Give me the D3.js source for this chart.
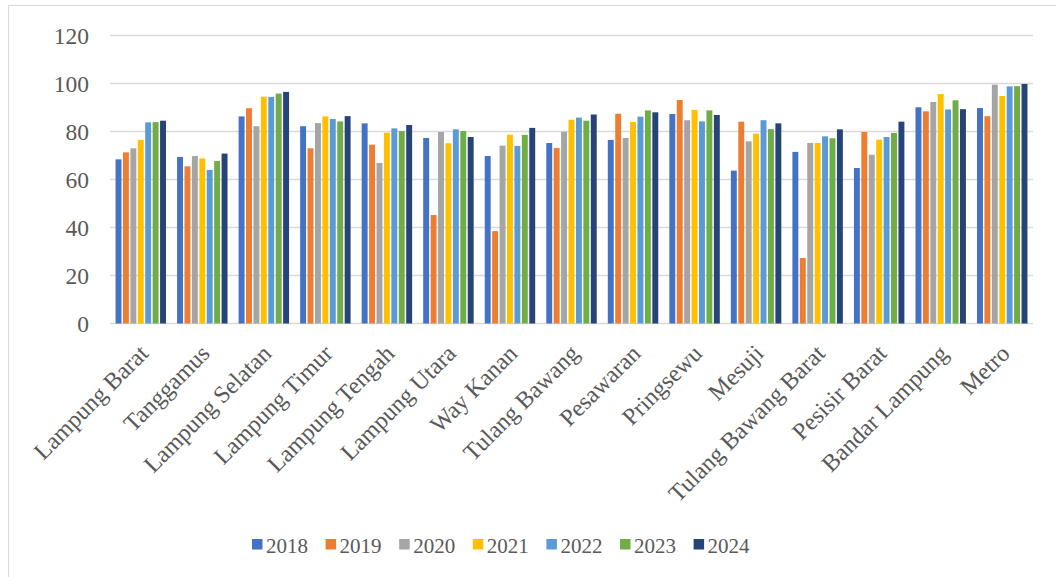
<!DOCTYPE html>
<html lang="en">
<head>
    <meta charset="UTF-8">
    <title>chart</title>
    <script src="https://cdn.jsdelivr.net/npm/d3@7/dist/d3.min.js"></script>
    <style>
        body { margin: 0; background: #fff; }
        text { font-family: "Liberation Serif", "Times New Roman", serif; fill: #595959; }
    </style>
</head>
<body>

<svg width="1056" height="577"></svg>

<script>

    // data
    var regions = ["Lampung Barat", "Tanggamus", "Lampung Selatan", "Lampung Timur", "Lampung Tengah",
        "Lampung Utara", "Way Kanan", "Tulang Bawang", "Pesawaran", "Pringsewu", "Mesuji",
        "Tulang Bawang Barat", "Pesisir Barat", "Bandar Lampung", "Metro"];
    var years = ["2018", "2019", "2020", "2021", "2022", "2023", "2024"];

    var v2018 = [68.4, 69.4, 86.3, 82.2, 83.4, 77.3, 69.8, 75.2, 76.5, 87.3, 63.7, 71.5, 64.8, 90.1, 89.8];
    var v2019 = [71.3, 65.5, 89.7, 73.0, 74.5, 45.2, 38.5, 73.1, 87.4, 93.1, 84.1, 27.3, 79.8, 88.4, 86.4];
    var v2020 = [73.0, 69.8, 82.2, 83.5, 66.9, 79.8, 74.1, 79.9, 77.3, 84.7, 75.9, 75.2, 70.3, 92.3, 99.5];
    var v2021 = [76.5, 68.8, 94.5, 86.3, 79.5, 75.1, 78.7, 84.9, 84.0, 89.0, 79.1, 75.2, 76.6, 95.6, 94.8];
    var v2022 = [83.8, 64.0, 94.4, 85.2, 81.3, 80.9, 74.0, 85.8, 86.2, 84.2, 84.7, 78.0, 77.7, 89.2, 98.8];
    var v2023 = [83.9, 67.7, 95.8, 84.2, 80.2, 80.2, 78.6, 84.5, 88.8, 88.8, 81.0, 77.2, 79.4, 93.0, 98.9];
    var v2024 = [84.5, 70.8, 96.5, 86.4, 82.7, 77.7, 81.5, 87.1, 88.0, 86.9, 83.4, 80.9, 84.1, 89.3, 99.8];

    var series = [v2018, v2019, v2020, v2021, v2022, v2023, v2024];
    var colors = ["#4472C4", "#ED7D31", "#A5A5A5", "#FFC000", "#5B9BD5", "#70AD47", "#264478"];
    var yTicks = [0, 20, 40, 60, 80, 100, 120];

    var svg = d3.select("svg");

    // border
    svg.append("rect")
        .attr("x", 8.5).attr("y", 5.5)
        .attr("width", 1060).attr("height", 580)
        .attr("fill", "none")
        .attr("stroke", "#d9d9d9")
        .attr("stroke-width", 1);

    var plotLeft = 110, plotRight = 1033, plotTop = 35.5, plotBottom = 323.5;

    var x0 = d3.scaleBand()
        .domain(regions)
        .range([plotLeft, plotRight])
        .paddingInner(0.18)
        .paddingOuter(0.09);

    var x1 = d3.scaleBand()
        .domain(years)
        .range([0, x0.bandwidth()])
        .paddingInner(0.2);

    var y = d3.scaleLinear()
        .domain([0, 120])
        .range([plotBottom, plotTop]);

    // gridlines
    svg.append("g")
        .selectAll("line")
        .data(yTicks)
        .enter()
        .append("line")
        .attr("x1", plotLeft)
        .attr("x2", plotRight)
        .attr("y1", function (d) { return y(d); })
        .attr("y2", function (d) { return y(d); })
        .attr("stroke", "#d9d9d9")
        .attr("stroke-width", 1.5);

    // y tick labels
    svg.append("g")
        .selectAll("text")
        .data(yTicks)
        .enter()
        .append("text")
        .attr("x", 89)
        .attr("y", function (d) { return y(d); })
        .attr("dy", "0.35em")
        .attr("text-anchor", "end")
        .style("font-size", "23.5px")
        .text(function (d) { return d; });

    // bars
    var groups = svg.append("g")
        .selectAll("g")
        .data(regions)
        .enter()
        .append("g")
        .attr("transform", function (d) { return "translate(" + x0(d) + ",0)"; });

    groups.selectAll("rect")
        .data(function (d, i) {
            return years.map(function (yr, j) { return {year: yr, value: series[j][i], idx: j}; });
        })
        .enter()
        .append("rect")
        .attr("x", function (d) { return x1(d.year); })
        .attr("y", function (d) { return y(d.value); })
        .attr("width", x1.bandwidth())
        .attr("height", function (d) { return y(0) - y(d.value); })
        .attr("fill", function (d) { return colors[d.idx]; });

    // x labels
    svg.append("g")
        .selectAll("text")
        .data(regions)
        .enter()
        .append("text")
        .attr("transform", function (d) {
            return "translate(" + (x0(d) + x0.bandwidth() / 2 - 3) + "," + 343 + ") rotate(-45)";
        })
        .attr("text-anchor", "end")
        .attr("dy", "0.7em")
        .style("font-size", "24px")
        .text(function (d) { return d; });

    // legend
    var legend = svg.append("g")
        .selectAll("g")
        .data(years)
        .enter()
        .append("g")
        .attr("transform", function (d, i) { return "translate(" + (252 + i * 73.6) + ",539)"; });

    legend.append("rect")
        .attr("width", 10.5)
        .attr("height", 10.5)
        .attr("fill", function (d, i) { return colors[i]; });

    legend.append("text")
        .attr("x", 14)
        .attr("y", 14)
        .style("font-size", "21px")
        .text(function (d) { return d; });

</script>
</body>
</html>
